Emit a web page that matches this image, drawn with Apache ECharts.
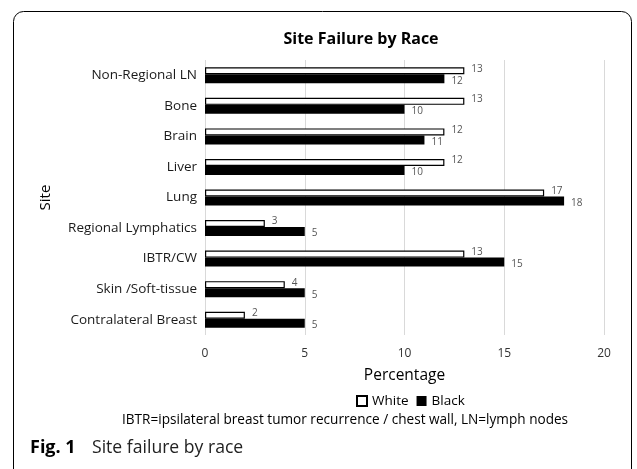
<!DOCTYPE html>
<html>
<head>
<meta charset="utf-8">
<script src="https://cdn.jsdelivr.net/npm/echarts@6/dist/echarts.min.js"></script>
<style>
  html, body { margin: 0; padding: 0; background: #fff; }
  #chart { width: 637px; height: 469px; }
</style>
</head>
<body>
<div id="chart"></div>
<script>
const categories = ['Non-Regional LN', 'Bone', 'Brain', 'Liver', 'Lung', 'Regional Lymphatics', 'IBTR/CW', 'Skin /Soft-tissue', 'Contralateral Breast'];
const whiteValues = [13, 13, 12, 12, 17, 3, 13, 4, 2];
const blackValues = [12, 10, 11, 10, 18, 5, 15, 5, 5];
const xTicks = [0, 5, 10, 15, 20];

const font = 'Open Sans';
const chart = echarts.init(document.getElementById('chart'));

chart.setOption({
  animation: false,
  title: {
    text: 'Site Failure by Race',
    left: 356, top: 26, textAlign: 'center',
    textStyle: { fontFamily: font, fontSize: 16, fontWeight: 'bold', color: '#000' }
  },
  grid: { left: 205, right: 33, top: 60, bottom: 134 },
  legend: {
    data: ['White', 'Black'],
    left: 351, top: 389,
    itemWidth: 10, itemHeight: 10, itemGap: 8,
    icon: 'rect',
    textStyle: { fontFamily: font, fontSize: 13.5, color: '#000' }
  },
  xAxis: {
    type: 'value', min: 0, max: 20, interval: 5,
    name: 'Percentage', nameLocation: 'middle', nameGap: 33,
    nameTextStyle: { fontFamily: font, fontSize: 15.5, color: '#000' },
    axisLine: { show: false }, axisTick: { show: false },
    axisLabel: { fontFamily: font, fontSize: 12, color: '#333', margin: 13,
      formatter: v => xTicks.includes(v) ? String(v) : '' },
    splitLine: { lineStyle: { color: '#d9d9d9' } }
  },
  yAxis: {
    type: 'category', data: categories, inverse: true,
    name: 'Site', nameLocation: 'middle', nameGap: 152, nameRotate: 90,
    nameTextStyle: { fontFamily: font, fontSize: 15, color: '#000' },
    axisLine: { show: false }, axisTick: { show: false },
    axisLabel: { fontFamily: font, fontSize: 13.5, color: '#1a1a1a', margin: 8 }
  },
  series: [
    {
      name: 'White', type: 'bar', data: whiteValues,
      barWidth: 7, barGap: '0%',
      itemStyle: { color: '#fff', borderColor: '#000', borderWidth: 1.2 },
      label: { show: true, position: 'right', distance: 7, offset: [0, -2],
        fontFamily: font, fontSize: 10, color: '#555' }
    },
    {
      name: 'Black', type: 'bar', data: blackValues,
      barWidth: 9, barGap: '0%',
      itemStyle: { color: '#000' },
      label: { show: true, position: 'right', distance: 7, offset: [0, 2],
        fontFamily: font, fontSize: 10, color: '#555' }
    }
  ],
  graphic: [
    { type: 'rect', shape: { x: 13.5, y: 11.5, width: 618, height: 470, r: 10 },
      style: { fill: 'none', stroke: '#000', lineWidth: 1 }, z: -1 },
    { type: 'text', left: 122, top: 413,
      style: { text: 'IBTR=ipsilateral breast tumor recurrence / chest wall, LN=lymph nodes',
        font: '13.6px "Open Sans"', fill: '#000' } },
    { type: 'text', left: 30, top: 439,
      style: { text: 'Fig. 1', font: 'bold 18px "Open Sans"', fill: '#000' } },
    { type: 'text', left: 92, top: 439,
      style: { text: 'Site failure by race', font: '17.6px "Open Sans"', fill: '#222' } }
  ]
});
</script>
</body>
</html>
